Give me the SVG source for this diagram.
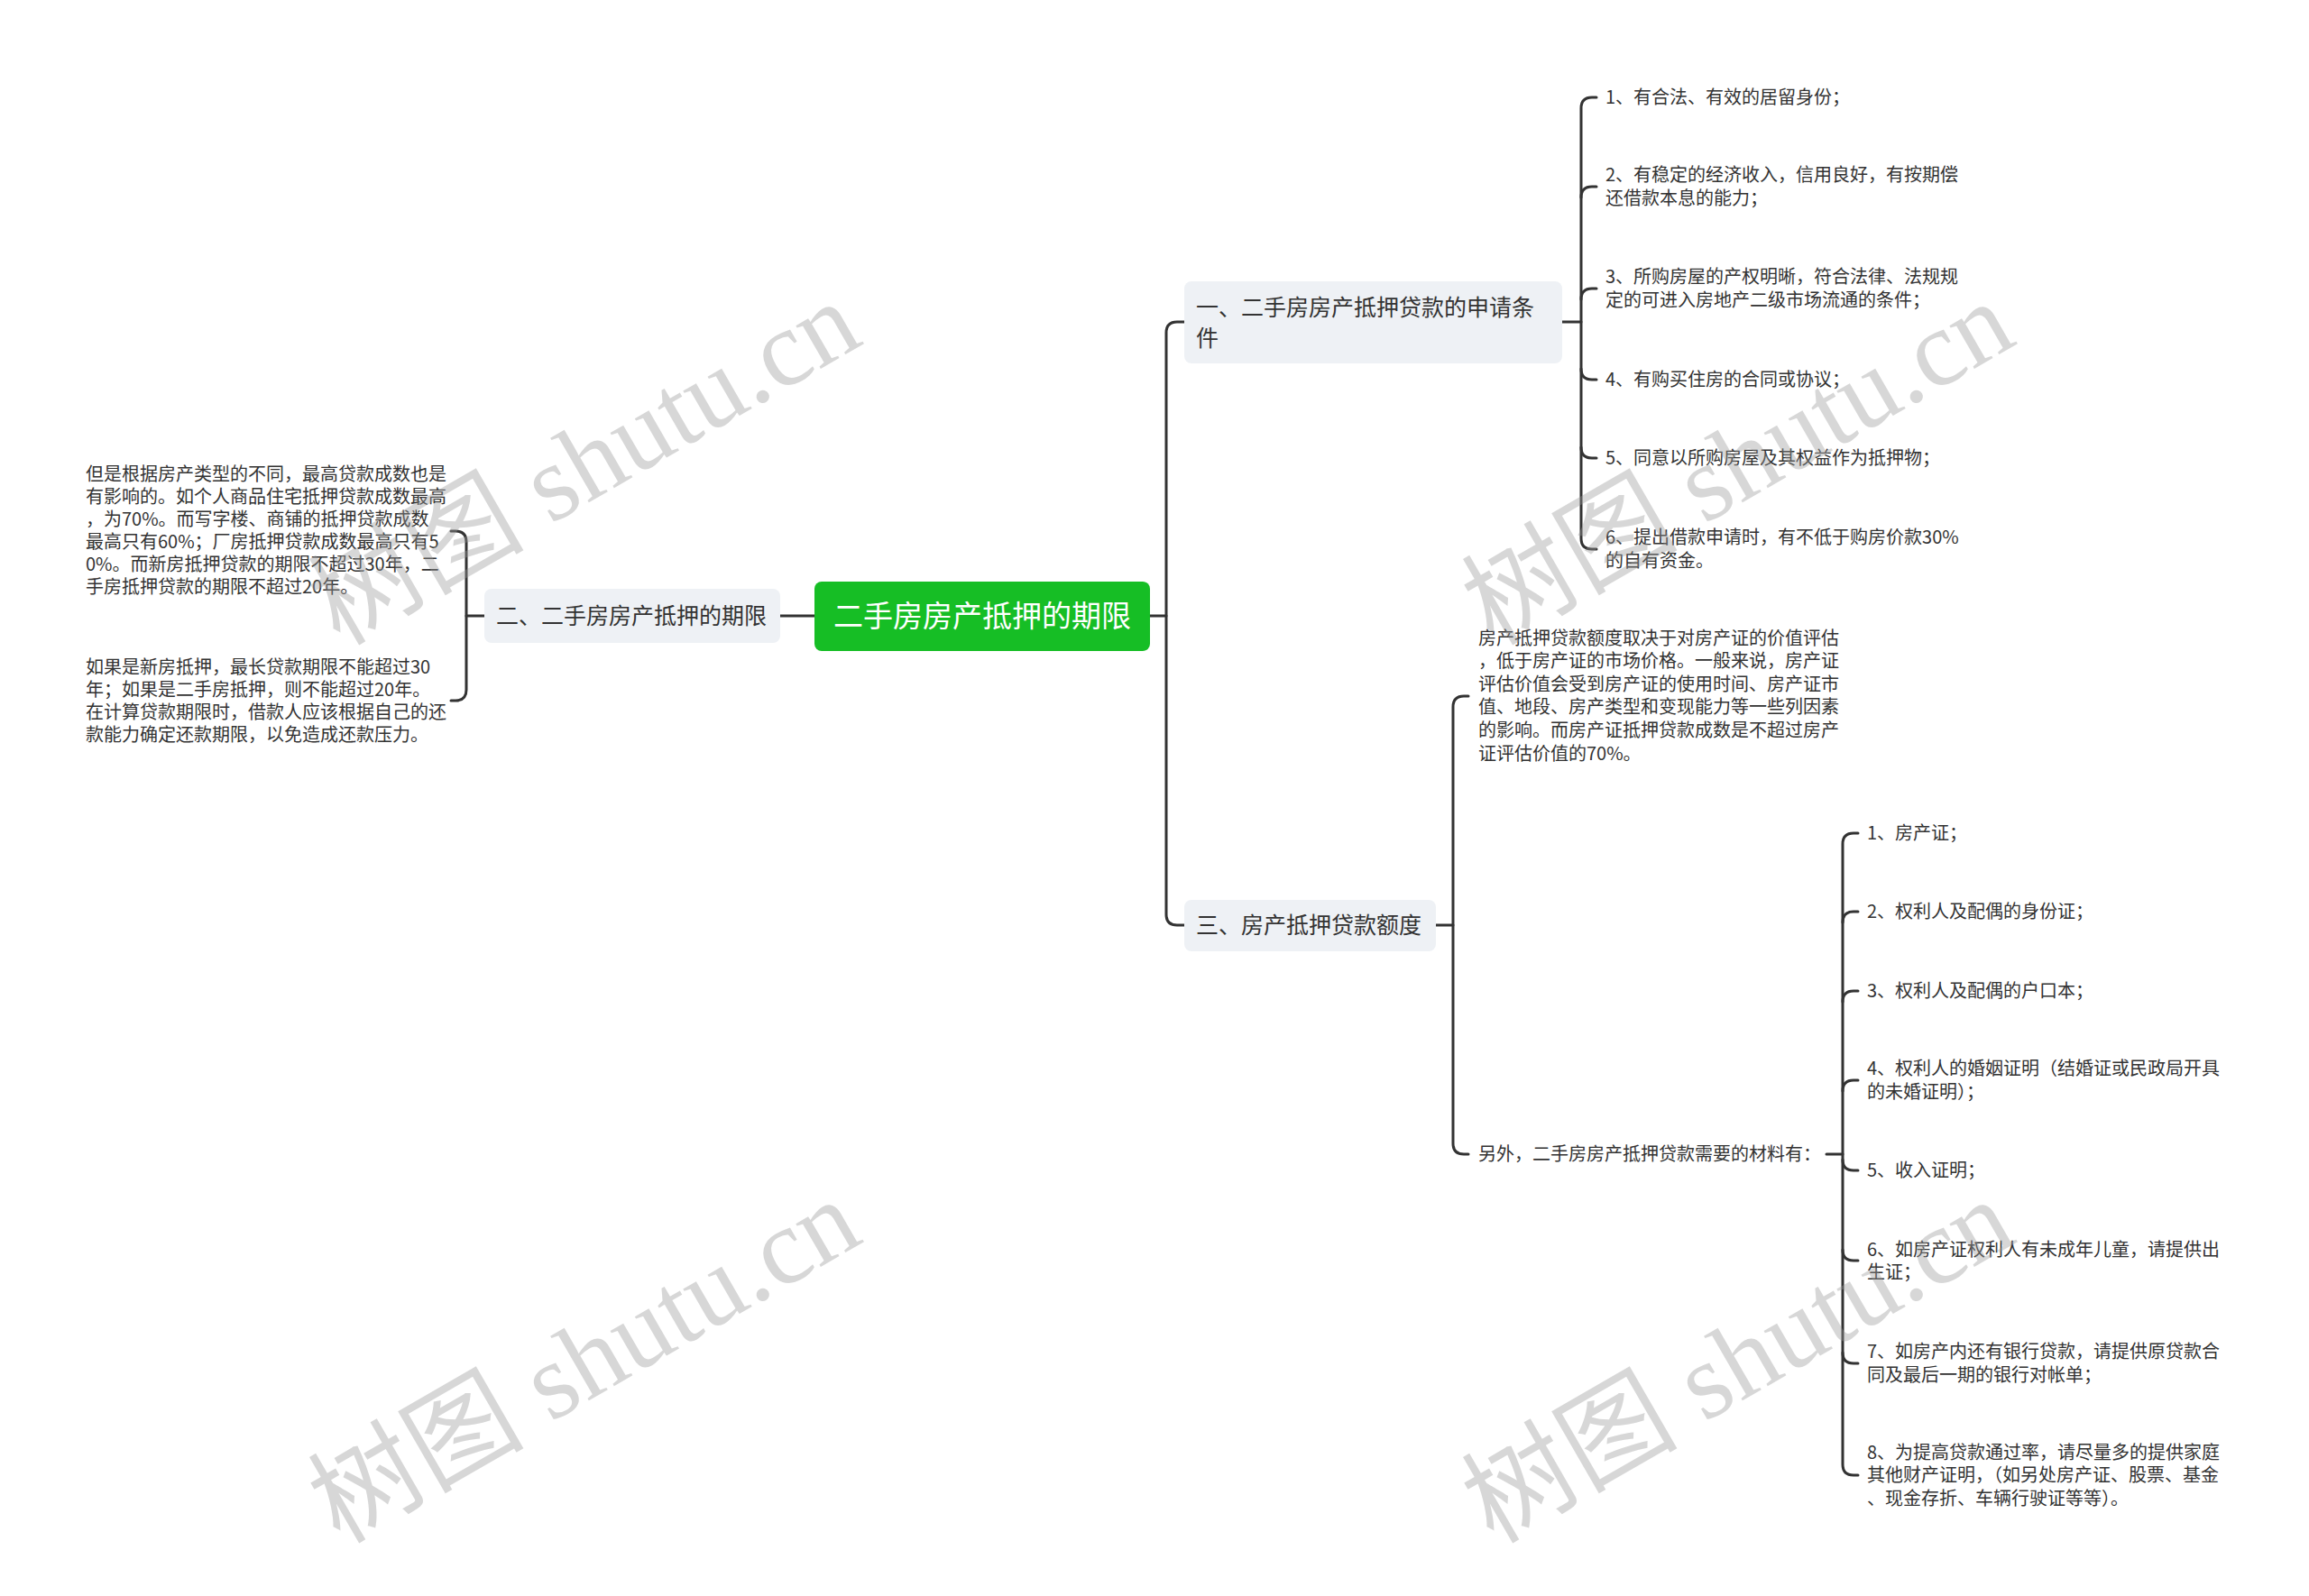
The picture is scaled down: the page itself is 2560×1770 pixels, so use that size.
<svg xmlns="http://www.w3.org/2000/svg" width="2560" height="1770" viewBox="0 0 2560 1770">
<style>
.t{font-family:"Noto Sans CJK SC","Noto Sans",sans-serif;font-size:20px;fill:#333}
.m{font-family:"Noto Sans CJK SC","Noto Sans",sans-serif;font-size:25px;fill:#333}
.c{font-family:"Noto Sans CJK SC","Noto Sans",sans-serif;font-size:33px;fill:#fff}
.box{fill:#eef1f5}
.ln{fill:none;stroke:#333;stroke-width:3;stroke-linecap:round}
.wm{font-family:"Liberation Serif","Noto Sans CJK SC",serif;font-size:120px;fill:#999;opacity:0.38}
</style>
<rect width="2560" height="1770" fill="#fff"/>
<g id="connectors">
<path class="ln" d="M865,683H903"/>
<path class="ln" d="M1275,683H1293"/>
<path class="ln" d="M1313,357H1305Q1293,357 1293,369V1014Q1293,1026 1305,1026H1313"/>
<path class="ln" d="M537,683H517"/>
<path class="ln" d="M500,589H505Q517,589 517,601V765Q517,777 505,777H500"/>
<path class="ln" d="M1732,357H1753"/>
<path class="ln" d="M1770,108H1765Q1753,108 1753,120V597Q1753,609 1765,609H1770"/>
<path class="ln" d="M1753,219Q1753,207 1765,207H1770"/>
<path class="ln" d="M1753,332Q1753,320 1765,320H1770"/>
<path class="ln" d="M1753,409Q1753,421 1765,421H1770"/>
<path class="ln" d="M1753,496Q1753,508 1765,508H1770"/>
<path class="ln" d="M1592,1026H1611"/>
<path class="ln" d="M1628,772H1623Q1611,772 1611,784V1268Q1611,1280 1623,1280H1628"/>
<path class="ln" d="M2025,1280H2043"/>
<path class="ln" d="M2060,924H2055Q2043,924 2043,936V1624Q2043,1636 2055,1636H2060"/>
<path class="ln" d="M2043,1023Q2043,1011 2055,1011H2060"/>
<path class="ln" d="M2043,1111Q2043,1099 2055,1099H2060"/>
<path class="ln" d="M2043,1210Q2043,1198 2055,1198H2060"/>
<path class="ln" d="M2043,1286Q2043,1298 2055,1298H2060"/>
<path class="ln" d="M2043,1386Q2043,1398 2055,1398H2060"/>
<path class="ln" d="M2043,1500Q2043,1512 2055,1512H2060"/>
</g>
<g id="root">
<rect x="903" y="645" width="372" height="77" rx="8" fill="#16be25"/>
<text class="c" x="1089" y="695" text-anchor="middle">二手房房产抵押的期限</text>
</g>
<g id="n2">
<rect class="box" x="537" y="653" width="328" height="60" rx="8"/>
<text class="m" x="550" y="692">二、二手房房产抵押的期限</text>
</g>
<g id="n2a">
<text class="t" x="95" y="533">但是根据房产类型的不同，最高贷款成数也是</text>
<text class="t" x="95" y="558">有影响的。如个人商品住宅抵押贷款成数最高</text>
<text class="t" x="95" y="583">，为70%。而写字楼、商铺的抵押贷款成数</text>
<text class="t" x="95" y="608">最高只有60%；厂房抵押贷款成数最高只有5</text>
<text class="t" x="95" y="633">0%。而新房抵押贷款的期限不超过30年，二</text>
<text class="t" x="95" y="658">手房抵押贷款的期限不超过20年。</text>
</g>
<g id="n2b">
<text class="t" x="95" y="747">如果是新房抵押，最长贷款期限不能超过30</text>
<text class="t" x="95" y="772">年；如果是二手房抵押，则不能超过20年。</text>
<text class="t" x="95" y="797">在计算贷款期限时，借款人应该根据自己的还</text>
<text class="t" x="95" y="822">款能力确定还款期限，以免造成还款压力。</text>
</g>
<g id="n1">
<rect class="box" x="1313" y="312" width="419" height="91" rx="8"/>
<text class="m" x="1326" y="350">一、二手房房产抵押贷款的申请条</text>
<text class="m" x="1326" y="384">件</text>
</g>
<g id="n1-1"><text class="t" x="1780" y="115">1、有合法、有效的居留身份；</text></g>
<g id="n1-2"><text class="t" x="1780" y="201">2、有稳定的经济收入，信用良好，有按期偿</text><text class="t" x="1780" y="227">还借款本息的能力；</text></g>
<g id="n1-3"><text class="t" x="1780" y="314">3、所购房屋的产权明晰，符合法律、法规规</text><text class="t" x="1780" y="340">定的可进入房地产二级市场流通的条件；</text></g>
<g id="n1-4"><text class="t" x="1780" y="428">4、有购买住房的合同或协议；</text></g>
<g id="n1-5"><text class="t" x="1780" y="515">5、同意以所购房屋及其权益作为抵押物；</text></g>
<g id="n1-6"><text class="t" x="1780" y="603">6、提出借款申请时，有不低于购房价款30%</text><text class="t" x="1780" y="629">的自有资金。</text></g>
<g id="n3">
<rect class="box" x="1313" y="998" width="279" height="57" rx="8"/>
<text class="m" x="1326" y="1035">三、房产抵押贷款额度</text>
</g>
<g id="n3a">
<text class="t" x="1639" y="715">房产抵押贷款额度取决于对房产证的价值评估</text>
<text class="t" x="1639" y="740">，低于房产证的市场价格。一般来说，房产证</text>
<text class="t" x="1639" y="766">评估价值会受到房产证的使用时间、房产证市</text>
<text class="t" x="1639" y="791">值、地段、房产类型和变现能力等一些列因素</text>
<text class="t" x="1639" y="817">的影响。而房产证抵押贷款成数是不超过房产</text>
<text class="t" x="1639" y="843">证评估价值的70%。</text>
</g>
<g id="n3b"><text class="t" x="1639" y="1287">另外，二手房房产抵押贷款需要的材料有：</text></g>
<g id="m1"><text class="t" x="2070" y="931">1、房产证；</text></g>
<g id="m2"><text class="t" x="2070" y="1018">2、权利人及配偶的身份证；</text></g>
<g id="m3"><text class="t" x="2070" y="1106">3、权利人及配偶的户口本；</text></g>
<g id="m4"><text class="t" x="2070" y="1192">4、权利人的婚姻证明（结婚证或民政局开具</text><text class="t" x="2070" y="1218">的未婚证明）；</text></g>
<g id="m5"><text class="t" x="2070" y="1305">5、收入证明；</text></g>
<g id="m6"><text class="t" x="2070" y="1393">6、如房产证权利人有未成年儿童，请提供出</text><text class="t" x="2070" y="1418">生证；</text></g>
<g id="m7"><text class="t" x="2070" y="1506">7、如房产内还有银行贷款，请提供原贷款合</text><text class="t" x="2070" y="1532">同及最后一期的银行对帐单；</text></g>
<g id="m8"><text class="t" x="2070" y="1618">8、为提高贷款通过率，请尽量多的提供家庭</text><text class="t" x="2070" y="1643">其他财产证明，（如另处房产证、股票、基金</text><text class="t" x="2070" y="1669">、现金存折、车辆行驶证等等）。</text></g>
<g id="watermarks">
<text class="wm" text-anchor="middle" transform="translate(648,514) rotate(-30)" y="40">树图 shutu.cn</text>
<text class="wm" text-anchor="middle" transform="translate(1927,514) rotate(-30)" y="40">树图 shutu.cn</text>
<text class="wm" text-anchor="middle" transform="translate(648,1510) rotate(-30)" y="40">树图 shutu.cn</text>
<text class="wm" text-anchor="middle" transform="translate(1927,1510) rotate(-30)" y="40">树图 shutu.cn</text>
</g>
</svg>
